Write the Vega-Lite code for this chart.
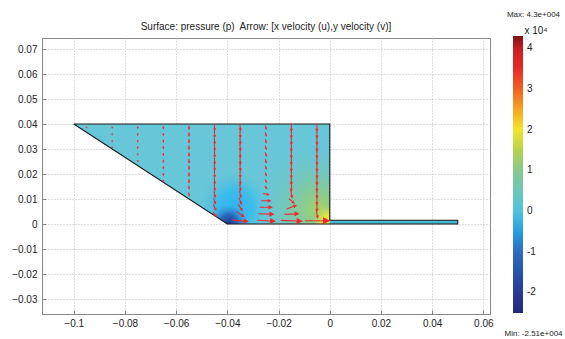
{
  "$schema": "https://vega.github.io/schema/vega-lite/v6.json",
  "autosize": {"type": "none"},
  "width": 448,
  "height": 276,
  "padding": {"left": 42, "top": 38, "right": 75, "bottom": 25},
  "background": "white",
  "title": {"text": "Surface: pressure (p)\u00a0 Arrow: [x velocity (u),y velocity (v)]", "frame": "group", "fontSize": 10, "fontWeight": "normal", "font": "Liberation Sans", "color": "#222", "offset": 8, "dy": 30, "anchor": "middle"},
  "config": {
    "view": {"stroke": "#888", "strokeWidth": 1},
    "axis": {"labelFont": "Liberation Sans", "labelFontSize": 10, "labelColor": "#222", "labelOverlap": false, "labelBound": false, "domainColor": "#888", "tickColor": "#888", "tickSize": -4, "gridColor": "#bdbdbd", "gridDash": [1, 2], "gridWidth": 1, "titleFont": "Liberation Sans", "titleFontSize": 8, "titleFontWeight": "normal", "titleColor": "#222"}
  },
  "datasets": {
    "trap": [
      {"x": -0.1, "top": 0.04, "bot": 0.04},
      {"x": -0.04, "top": 0.04, "bot": 0},
      {"x": 0, "top": 0.04, "bot": 0}
    ],
    "channel": [
      {"x": 0, "top": 0.0015, "bot": 0},
      {"x": 0.05, "top": 0.0015, "bot": 0}
    ],
    "outline": [
      {"x": -0.1, "y": 0.04, "o": 1},
      {"x": 0, "y": 0.04, "o": 2},
      {"x": 0, "y": 0.0015, "o": 3},
      {"x": 0.05, "y": 0.0015, "o": 4},
      {"x": 0.05, "y": 0, "o": 5},
      {"x": -0.04, "y": 0, "o": 6},
      {"x": -0.1, "y": 0.04, "o": 7}
    ],
    "pressure": [{"p": -25100}, {"p": 43000}],
    "arrows": [
      {"x": -0.095, "y": 0.0387, "speed": 0.05, "dir": 180},
      {"x": -0.085, "y": 0.0307, "speed": 0.06, "dir": 180},
      {"x": -0.085, "y": 0.0333, "speed": 0.08, "dir": 180},
      {"x": -0.085, "y": 0.036, "speed": 0.09, "dir": 180},
      {"x": -0.085, "y": 0.0387, "speed": 0.09, "dir": 180},
      {"x": -0.075, "y": 0.0253, "speed": 0.1, "dir": 180},
      {"x": -0.075, "y": 0.028, "speed": 0.12, "dir": 180},
      {"x": -0.075, "y": 0.0307, "speed": 0.13, "dir": 180},
      {"x": -0.075, "y": 0.0333, "speed": 0.13, "dir": 180},
      {"x": -0.075, "y": 0.036, "speed": 0.13, "dir": 180},
      {"x": -0.075, "y": 0.0387, "speed": 0.13, "dir": 180},
      {"x": -0.065, "y": 0.0173, "speed": 0.15, "dir": 170},
      {"x": -0.065, "y": 0.02, "speed": 0.18, "dir": 178},
      {"x": -0.065, "y": 0.0227, "speed": 0.19, "dir": 180},
      {"x": -0.065, "y": 0.0253, "speed": 0.2, "dir": 180},
      {"x": -0.065, "y": 0.028, "speed": 0.2, "dir": 180},
      {"x": -0.065, "y": 0.0307, "speed": 0.2, "dir": 180},
      {"x": -0.065, "y": 0.0333, "speed": 0.2, "dir": 180},
      {"x": -0.065, "y": 0.036, "speed": 0.2, "dir": 180},
      {"x": -0.065, "y": 0.0387, "speed": 0.2, "dir": 180},
      {"x": -0.055, "y": 0.012, "speed": 0.3, "dir": 165},
      {"x": -0.055, "y": 0.0147, "speed": 0.32, "dir": 172},
      {"x": -0.055, "y": 0.0173, "speed": 0.35, "dir": 178},
      {"x": -0.055, "y": 0.02, "speed": 0.35, "dir": 178},
      {"x": -0.055, "y": 0.0227, "speed": 0.35, "dir": 178},
      {"x": -0.055, "y": 0.0253, "speed": 0.35, "dir": 178},
      {"x": -0.055, "y": 0.028, "speed": 0.35, "dir": 178},
      {"x": -0.055, "y": 0.0307, "speed": 0.35, "dir": 178},
      {"x": -0.055, "y": 0.0333, "speed": 0.35, "dir": 178},
      {"x": -0.055, "y": 0.036, "speed": 0.35, "dir": 178},
      {"x": -0.055, "y": 0.0387, "speed": 0.35, "dir": 178},
      {"x": -0.045, "y": 0.004, "speed": 0.55, "dir": 145},
      {"x": -0.045, "y": 0.0067, "speed": 0.6, "dir": 155},
      {"x": -0.045, "y": 0.0093, "speed": 0.6, "dir": 163},
      {"x": -0.045, "y": 0.012, "speed": 0.6, "dir": 170},
      {"x": -0.045, "y": 0.0147, "speed": 0.6, "dir": 175},
      {"x": -0.045, "y": 0.0173, "speed": 0.6, "dir": 177},
      {"x": -0.045, "y": 0.02, "speed": 0.6, "dir": 177},
      {"x": -0.045, "y": 0.0227, "speed": 0.6, "dir": 177},
      {"x": -0.045, "y": 0.0253, "speed": 0.6, "dir": 177},
      {"x": -0.045, "y": 0.028, "speed": 0.6, "dir": 177},
      {"x": -0.045, "y": 0.0307, "speed": 0.6, "dir": 177},
      {"x": -0.045, "y": 0.0333, "speed": 0.6, "dir": 177},
      {"x": -0.045, "y": 0.036, "speed": 0.6, "dir": 177},
      {"x": -0.045, "y": 0.0387, "speed": 0.6, "dir": 177},
      {"x": -0.035, "y": 0.0013, "speed": 1.5, "dir": 95},
      {"x": -0.035, "y": 0.004, "speed": 0.9, "dir": 125},
      {"x": -0.035, "y": 0.0067, "speed": 0.7, "dir": 145},
      {"x": -0.035, "y": 0.0093, "speed": 0.65, "dir": 160},
      {"x": -0.035, "y": 0.012, "speed": 0.65, "dir": 168},
      {"x": -0.035, "y": 0.0147, "speed": 0.65, "dir": 174},
      {"x": -0.035, "y": 0.0173, "speed": 0.65, "dir": 176},
      {"x": -0.035, "y": 0.02, "speed": 0.65, "dir": 176},
      {"x": -0.035, "y": 0.0227, "speed": 0.65, "dir": 176},
      {"x": -0.035, "y": 0.0253, "speed": 0.65, "dir": 176},
      {"x": -0.035, "y": 0.028, "speed": 0.65, "dir": 176},
      {"x": -0.035, "y": 0.0307, "speed": 0.65, "dir": 176},
      {"x": -0.035, "y": 0.0333, "speed": 0.65, "dir": 176},
      {"x": -0.035, "y": 0.036, "speed": 0.65, "dir": 176},
      {"x": -0.035, "y": 0.0387, "speed": 0.65, "dir": 176},
      {"x": -0.025, "y": 0.0013, "speed": 1.8, "dir": 93},
      {"x": -0.025, "y": 0.004, "speed": 1.5, "dir": 92},
      {"x": -0.025, "y": 0.0067, "speed": 1.2, "dir": 90},
      {"x": -0.025, "y": 0.0093, "speed": 0.9, "dir": 90},
      {"x": -0.025, "y": 0.012, "speed": 0.55, "dir": 100},
      {"x": -0.025, "y": 0.0147, "speed": 0.3, "dir": 140},
      {"x": -0.025, "y": 0.0173, "speed": 0.3, "dir": 150},
      {"x": -0.025, "y": 0.02, "speed": 0.3, "dir": 155},
      {"x": -0.025, "y": 0.0227, "speed": 0.35, "dir": 160},
      {"x": -0.025, "y": 0.0253, "speed": 0.35, "dir": 165},
      {"x": -0.025, "y": 0.028, "speed": 0.35, "dir": 165},
      {"x": -0.025, "y": 0.0307, "speed": 0.35, "dir": 165},
      {"x": -0.025, "y": 0.0333, "speed": 0.35, "dir": 165},
      {"x": -0.025, "y": 0.036, "speed": 0.35, "dir": 165},
      {"x": -0.025, "y": 0.0387, "speed": 0.35, "dir": 165},
      {"x": -0.015, "y": 0.0013, "speed": 2.1, "dir": 92},
      {"x": -0.015, "y": 0.004, "speed": 1.4, "dir": 88},
      {"x": -0.015, "y": 0.0067, "speed": 1.0, "dir": 70},
      {"x": -0.015, "y": 0.0093, "speed": 0.65, "dir": 130},
      {"x": -0.015, "y": 0.012, "speed": 0.7, "dir": 170},
      {"x": -0.015, "y": 0.0147, "speed": 0.7, "dir": 180},
      {"x": -0.015, "y": 0.0173, "speed": 0.7, "dir": 180},
      {"x": -0.015, "y": 0.02, "speed": 0.7, "dir": 180},
      {"x": -0.015, "y": 0.0227, "speed": 0.7, "dir": 180},
      {"x": -0.015, "y": 0.0253, "speed": 0.7, "dir": 180},
      {"x": -0.015, "y": 0.028, "speed": 0.7, "dir": 180},
      {"x": -0.015, "y": 0.0307, "speed": 0.7, "dir": 180},
      {"x": -0.015, "y": 0.0333, "speed": 0.7, "dir": 180},
      {"x": -0.015, "y": 0.036, "speed": 0.7, "dir": 180},
      {"x": -0.015, "y": 0.0387, "speed": 0.7, "dir": 180},
      {"x": -0.005, "y": 0.0013, "speed": 2.4, "dir": 90},
      {"x": -0.005, "y": 0.004, "speed": 0.75, "dir": 170},
      {"x": -0.005, "y": 0.0067, "speed": 0.7, "dir": 180},
      {"x": -0.005, "y": 0.0093, "speed": 0.7, "dir": 180},
      {"x": -0.005, "y": 0.012, "speed": 0.7, "dir": 180},
      {"x": -0.005, "y": 0.0147, "speed": 0.7, "dir": 180},
      {"x": -0.005, "y": 0.0173, "speed": 0.7, "dir": 180},
      {"x": -0.005, "y": 0.02, "speed": 0.7, "dir": 180},
      {"x": -0.005, "y": 0.0227, "speed": 0.7, "dir": 180},
      {"x": -0.005, "y": 0.0253, "speed": 0.7, "dir": 180},
      {"x": -0.005, "y": 0.028, "speed": 0.7, "dir": 180},
      {"x": -0.005, "y": 0.0307, "speed": 0.7, "dir": 180},
      {"x": -0.005, "y": 0.0333, "speed": 0.7, "dir": 180},
      {"x": -0.005, "y": 0.036, "speed": 0.7, "dir": 180},
      {"x": -0.005, "y": 0.0387, "speed": 0.7, "dir": 180}
    ]
  },
  "layer": [
    {
      "data": {"name": "trap"},
      "mark": {"type": "area", "fill": "#67c6d7", "stroke": null},
      "encoding": {
        "x": {"field": "x", "type": "quantitative", "scale": {"domain": [-0.1124, 0.0626], "nice": false, "zero": false},
              "axis": {"values": [-0.1, -0.08, -0.06, -0.04, -0.02, 0, 0.02, 0.04, 0.06], "tickCount": 20, "format": ".2~f", "labelOverlap": false, "grid": true, "labelPadding": 8, "title": "Min: -2.51e+004", "titleX": 491, "titleY": 19, "titleAlign": "center", "titleBaseline": "middle", "titleAnchor": null}},
        "y": {"field": "top", "type": "quantitative", "scale": {"domain": [-0.036, 0.0744], "nice": false, "zero": false},
              "axis": {"values": [-0.03, -0.02, -0.01, 0, 0.01, 0.02, 0.03, 0.04, 0.05, 0.06, 0.07], "tickCount": 20, "format": ".2~f", "labelOverlap": false, "labelFontSize": 10, "grid": true, "labelPadding": 9, "title": "Max: 4.3e+004", "titleAngle": 0, "titleX": 491, "titleY": -24, "titleAlign": "center", "titleBaseline": "middle", "titleAnchor": null}},
        "y2": {"field": "bot"}
      }
    },
    {
      "data": {"name": "trap"},
      "mark": {"type": "area", "stroke": null, "fill": {"gradient": "radial", "x1": 0.96, "y1": 0.64, "r1": 0, "x2": 0.96, "y2": 0.64, "r2": 0.25,
        "stops": [{"offset": 0, "color": "rgba(170,212,90,0.95)"}, {"offset": 0.45, "color": "rgba(135,201,145,0.6)"}, {"offset": 1, "color": "rgba(110,197,200,0)"}]}},
      "encoding": {"x": {"field": "x", "type": "quantitative"}, "y": {"field": "top", "type": "quantitative"}, "y2": {"field": "bot"}}
    },
    {
      "data": {"name": "trap"},
      "mark": {"type": "area", "stroke": null, "fill": {"gradient": "radial", "x1": 1.0, "y1": 0.686, "r1": 0, "x2": 1.0, "y2": 0.686, "r2": 0.065,
        "stops": [{"offset": 0, "color": "rgba(250,234,40,1)"}, {"offset": 0.5, "color": "rgba(236,228,60,0.85)"}, {"offset": 1, "color": "rgba(200,215,90,0)"}]}},
      "encoding": {"x": {"field": "x", "type": "quantitative"}, "y": {"field": "top", "type": "quantitative"}, "y2": {"field": "bot"}}
    },
    {
      "data": {"name": "trap"},
      "mark": {"type": "area", "stroke": null, "fill": {"gradient": "radial", "x1": 0.63, "y1": 0.63, "r1": 0, "x2": 0.63, "y2": 0.63, "r2": 0.14,
        "stops": [{"offset": 0, "color": "rgba(45,182,240,1)"}, {"offset": 0.5, "color": "rgba(55,186,238,0.85)"}, {"offset": 1, "color": "rgba(90,195,220,0)"}]}},
      "encoding": {"x": {"field": "x", "type": "quantitative"}, "y": {"field": "top", "type": "quantitative"}, "y2": {"field": "bot"}}
    },
    {
      "data": {"name": "trap"},
      "mark": {"type": "area", "stroke": null, "fill": {"gradient": "radial", "x1": 0.605, "y1": 0.692, "r1": 0, "x2": 0.605, "y2": 0.692, "r2": 0.075,
        "stops": [{"offset": 0, "color": "rgba(34,52,140,1)"}, {"offset": 0.45, "color": "rgba(40,90,180,0.85)"}, {"offset": 1, "color": "rgba(50,150,220,0)"}]}},
      "encoding": {"x": {"field": "x", "type": "quantitative"}, "y": {"field": "top", "type": "quantitative"}, "y2": {"field": "bot"}}
    },
    {
      "data": {"name": "channel"},
      "mark": {"type": "area", "fill": "#48b6cc", "stroke": null},
      "encoding": {"x": {"field": "x", "type": "quantitative"}, "y": {"field": "top", "type": "quantitative"}, "y2": {"field": "bot"}}
    },
    {
      "data": {"name": "outline"},
      "mark": {"type": "line", "stroke": "#1a1a1a", "strokeWidth": 1.1},
      "encoding": {"x": {"field": "x", "type": "quantitative"}, "y": {"field": "y", "type": "quantitative"}, "order": {"field": "o"}}
    },
    {
      "data": {"name": "arrows"},
      "mark": {"type": "point", "shape": "M0,1L0,-0.55M-0.22,-0.55L0,-1L0.22,-0.55Z", "filled": true, "fill": "#ee2a2f", "stroke": "#ee2a2f", "strokeWidth": 1.1, "opacity": 1},
      "encoding": {
        "x": {"field": "x", "type": "quantitative"},
        "y": {"field": "y", "type": "quantitative"},
        "size": {"field": "speed", "type": "quantitative", "scale": {"type": "pow", "exponent": 2, "domain": [0, 2.5], "range": [0, 625]}, "legend": null},
        "angle": {"field": "dir", "type": "quantitative", "scale": {"domain": [0, 360], "range": [0, 360]}}
      }
    },
    {
      "data": {"name": "pressure"},
      "mark": {"type": "point", "filled": true, "size": 0, "opacity": 1},
      "encoding": {
        "color": {"field": "p", "type": "quantitative",
          "scale": {"domain": [-25100, -20000, -10000, -3000, 0, 5000, 10000, 15000, 20000, 25000, 30000, 35000, 40000, 43000],
                    "range": ["#222a78", "#283a96", "#2d6cc0", "#33b3ea", "#50c3dc", "#6cc6ba", "#88c88c", "#b8d34a", "#f2e42a", "#f6a520", "#f06022", "#e92a28", "#c81d22", "#7c1416"]},
          "legend": {"orient": "none", "legendX": 471, "legendY": -12, "direction": "vertical", "gradientLength": 277, "gradientThickness": 10, "gradientStrokeWidth": 0, "padding": 0,
                     "values": [-20000, -10000, 0, 10000, 20000, 30000, 40000], "labelExpr": "datum.value / 10000", "labelFont": "Liberation Sans", "labelFontSize": 10, "labelColor": "#222", "labelOffset": 4,
                     "title": "x 10\u2074", "titleFont": "Liberation Sans", "titleFontSize": 10, "titleFontWeight": "normal", "titleColor": "#222", "titlePadding": 0, "titleAnchor": "end", "titleAlign": "center"}
        }
      }
    }
  ]
}
